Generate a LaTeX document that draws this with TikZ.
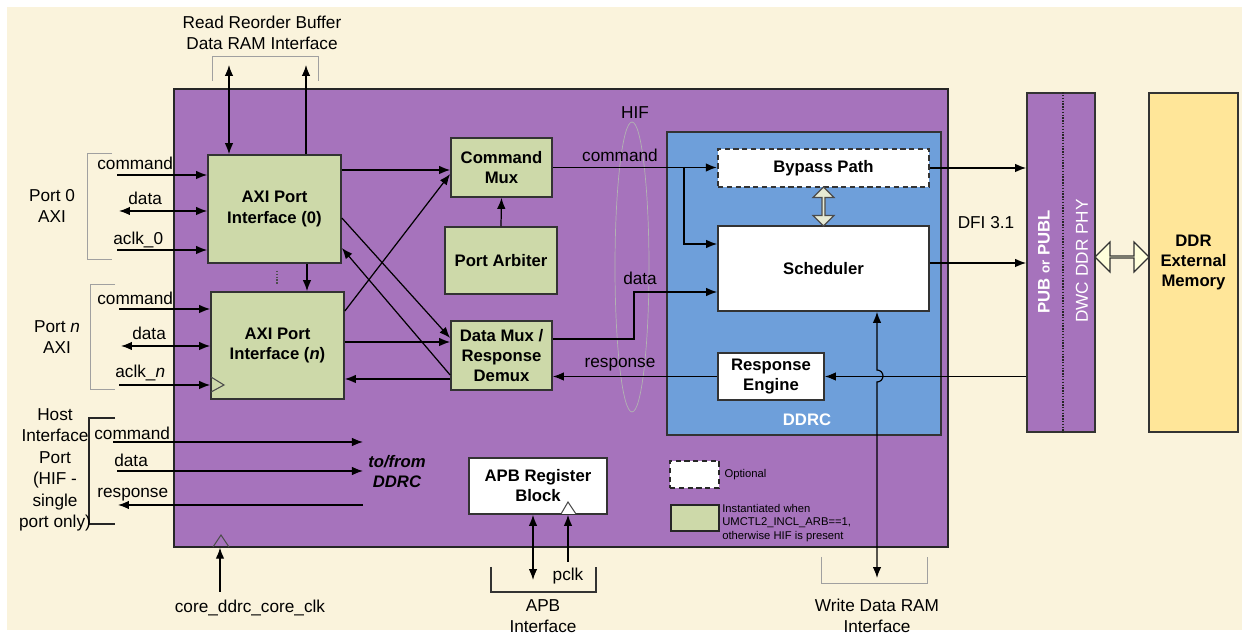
\documentclass[tikz,border=0pt]{standalone}
\usepackage{fontspec}
\setmainfont{Liberation Sans}
\usepackage{xcolor}
\usepackage{tikz}
\usetikzlibrary{arrows.meta,shapes.geometric,shapes.arrows}

\definecolor{cream}{HTML}{FAF3DC}
\definecolor{umpurple}{HTML}{A673BC}
\definecolor{axigreen}{HTML}{CDD9A9}
\definecolor{ddrcblue}{HTML}{6E9FDA}
\definecolor{memyellow}{HTML}{FFE699}
\definecolor{bracketgray}{HTML}{A0A0A0}
\definecolor{bpfill}{HTML}{E6EAD4}
\definecolor{phyfill}{HTML}{FFFFDC}

\begin{document}
\begin{tikzpicture}[x=0.02cm, y=-0.02cm,
  lbl/.style={font=\fontsize{9.8}{11.9}\selectfont, inner sep=0pt},
  smalllbl/.style={font=\fontsize{6.4}{7.6}\selectfont, inner sep=0pt, align=left},
  blk/.style={draw=black!80, line width=1pt, align=center, inner sep=0pt,
    font=\bfseries\fontsize{9.5}{11.4}\selectfont},
  green box/.style={blk, fill=axigreen},
  white box/.style={blk, fill=white},
  sig/.style={line width=0.7pt, -{Latex[length=2.2mm,width=1.7mm]}},
  bisig/.style={line width=0.7pt, {Latex[length=2.2mm,width=1.7mm]}-{Latex[length=2.2mm,width=1.7mm]}},
  brk/.style={draw=bracketgray, line width=0.5pt},
  clk/.style={draw=black!70, line width=0.6pt},
  fine dots/.style={line width=1pt, dash pattern=on 0.8pt off 0.8pt}
]
\useasboundingbox (0,0) rectangle (1248,634);
\fill[cream] (7,7) rectangle (1242,630);

% uMCTL2 outline
\node[draw=black!85, line width=0.8pt, fill=umpurple, minimum width=15.48cm, minimum height=9.16cm] (umctl) at (561,318) {};

% AXI ports
\node[green box, minimum width=2.66cm, minimum height=2.16cm] (axi0) at (274.5,209) {AXI Port\\Interface (0)};
\node[green box, minimum width=2.66cm, minimum height=2.14cm] (axin) at (277.5,345.5) {AXI Port\\Interface (\textit{n})};
\draw[fine dots, black!70, shorten >=4pt, shorten <=4pt] ([xshift=0.05cm]axi0.south) -- ([xshift=0.05cm]axi0.south |- axin.north);
\draw[sig] ([xshift=0.65cm]axi0.south) -- ([xshift=0.65cm]axi0.south |- axin.north);
\draw[clk] (211,377) -- (224,385) -- (211,392);

% Read reorder buffer
\coordinate (rrbA) at (229,65);
\coordinate (rrbB) at (306,65);
\draw[bisig] (rrbA) -- (rrbA |- axi0.north);
\draw[sig] (rrbB |- axi0.north) -- (rrbB);
\draw[brk] (212,81) -- (212,56) -- (318,56) -- (318,81);
\node[lbl, align=center] (rrblbl) at (262,33) {Read Reorder Buffer\\Data RAM Interface};

% Port 0
\draw[brk] (112,153) -- (87,153) -- (87,259) -- (112,259);
\node[lbl, align=center] (port0) at (52,206) {Port 0\\AXI};
\coordinate (p0cmd) at (117,175);
\coordinate (p0dat) at (119,211);
\coordinate (p0clk) at (117,250);
\draw[sig] (p0cmd) -- (p0cmd -| axi0.west);
\draw[bisig] (p0dat) -- (p0dat -| axi0.west);
\draw[sig] (p0clk) -- (p0clk -| axi0.west);
\node[lbl, anchor=base west] (p0cmdlbl) at (97,170) {command};
\node[lbl, anchor=base west] (p0datlbl) at (128,205) {data};
\node[lbl, anchor=base west] (p0clklbl) at (113,245) {aclk\_0};

% Port n
\draw[brk] (115,284) -- (90,284) -- (90,389) -- (115,389);
\node[lbl, align=center] (portn) at (57,337) {Port \textit{n}\\AXI};
\coordinate (pncmd) at (119,309);
\coordinate (pndat) at (121,346);
\coordinate (pnclk) at (119,385);
\draw[sig] (pncmd) -- (pncmd -| axin.west);
\draw[bisig] (pndat) -- (pndat -| axin.west);
\draw[sig] (pnclk) -- (pnclk -| axin.west);
\node[lbl, anchor=base west] (pncmdlbl) at (97,305) {command};
\node[lbl, anchor=base west] (pndatlbl) at (132,340) {data};
\node[lbl, anchor=base west] (pnclklbl) at (115,378) {aclk\_\textit{n}};

% Host interface port
\draw[line width=0.6pt, black!85] (115,418) -- (89,418) -- (89,524) -- (115,524);
\node[lbl, align=center, font=\fontsize{9.8}{12.2}\selectfont] (hostlbl) at (55,470) {Host\\Interface\\Port\\(HIF -\\single\\port only)};
\node[lbl, align=center, inner sep=2.8pt, font=\bfseries\itshape\fontsize{9.5}{11.4}\selectfont] (tofrom) at (397,472) {to/from\\DDRC};
\coordinate (hcmd) at (113,442);
\coordinate (hdat) at (117,471);
\coordinate (hresp) at (118,505);
\draw[sig] (hcmd) -- (hcmd -| tofrom.west);
\draw[sig] (hdat) -- (hdat -| tofrom.west);
\draw[sig] (hresp -| tofrom.west) -- (hresp);
\node[lbl, anchor=base west] (hcmdlbl) at (94,440) {command};
\node[lbl, anchor=base west] (hdatlbl) at (114,467) {data};
\node[lbl, anchor=base west] (hresplbl) at (97,498) {response};

% Core clock
\coordinate (coreclk) at (220,592);
\draw[sig] (coreclk) -- (coreclk |- umctl.south);
\draw[clk] (213,547) -- (221,535) -- (229,547);
\node[lbl, anchor=base] (coreclklbl) at (250,613) {core\_ddrc\_core\_clk};

% Muxes and arbiter
\node[green box, minimum width=2.02cm, minimum height=1.18cm] (cmdmux) at (501.5,167.5) {Command\\Mux};
\node[green box, minimum width=2.24cm, minimum height=1.34cm] (arbiter) at (501,260.5) {Port Arbiter};
\node[green box, minimum width=2.02cm, minimum height=1.38cm] (datamux) at (501.5,355.5) {Data Mux /\\Response\\Demux};
\draw[sig] (arbiter.north) -- (cmdmux.south);
\draw[sig] (axi0.east |- 0,170) -- (cmdmux.west |- 0,170);
\draw[sig] (axin.east |- 0,311) -- (cmdmux.west |- 0,174);
\draw[sig] (axi0.east |- 0,218) -- (datamux.west |- 0,338);
\draw[sig] (datamux.west |- 0,375) -- (axi0.east |- 0,248);
\draw[sig] (axin.east |- 0,342) -- (datamux.west |- 0,342);
\draw[sig] (datamux.west |- 0,379) -- (axin.east |- 0,379);

% HIF
\node[ellipse, draw=gray!60, line width=0.4pt, minimum width=0.68cm, minimum height=5.8cm, inner sep=0pt] (hifring) at (632,267) {};
\node[lbl] (hiflbl) at (635,113) {HIF};

% DDRC
\node[draw=black!80, line width=1pt, fill=ddrcblue, minimum width=5.48cm, minimum height=6.06cm] (ddrc) at (804,283.5) {};
\node[white box, dash pattern=on 3pt off 2pt, line width=1.4pt, minimum width=4.22cm, minimum height=0.76cm] (bypass) at (823.5,168) {Bypass Path};
\node[white box, minimum width=4.22cm, minimum height=1.7cm] (sched) at (823.5,268.5) {Scheduler};
\node[white box, minimum width=2.12cm, minimum height=0.94cm] (respeng) at (771,376.5) {Response\\Engine};
\node[font=\bfseries\fontsize{9.5}{11.4}\selectfont, text=white, inner sep=0pt] (ddrclbl) at (807,420) {DDRC};
\node[double arrow, draw=black!70, fill=bpfill, line width=0.7pt, rotate=90, minimum height=0.78cm, minimum width=0.42cm, double arrow head extend=0.07cm, inner sep=0pt] (bparrow) at (823.5,206.5) {};

% HIF signals
\coordinate (cmdsplit) at (684,167);
\draw[sig] (cmdmux.east) -- (cmdmux.east -| bypass.west);
\draw[sig] (cmdsplit) |- (sched.west |- 0,244);
\node[lbl, anchor=base] (hifcmdlbl) at (620,162) {command};
\draw[sig] (datamux.east |- 0,339) -| (634,292) -- (sched.west |- 0,292);
\node[lbl, anchor=base] (hifdatlbl) at (640,285) {data};
\draw[sig] (respeng.west) -- (respeng.west -| datamux.east);
\node[lbl, anchor=base] (hifresplbl) at (620,368) {response};

% PHY and memory
\node[draw=black!80, line width=1pt, fill=umpurple, minimum width=1.36cm, minimum height=6.78cm] (pub) at (1061,262.5) {};
\draw[fine dots, black!85] ([xshift=0.04cm]pub.north) -- ([xshift=0.04cm]pub.south);
\node[rotate=90, text=white, inner sep=0pt, font=\bfseries\fontsize{9.5}{11}\selectfont] (publbl) at (1044,262) {PUB {\fontsize{7.5}{9}\selectfont or} PUBL};
\node[rotate=90, text=white, inner sep=0pt, font=\fontsize{9.8}{11}\selectfont] (phylbl) at (1082,261) {DWC DDR PHY};
\node[blk, fill=memyellow, minimum width=1.78cm, minimum height=6.78cm] (ddr) at (1193.5,262.5) {DDR\\External\\Memory};
\node[double arrow, draw=black!80, fill=phyfill, line width=0.7pt, minimum height=1.08cm, minimum width=0.6cm, double arrow head extend=0.17cm, inner sep=0pt] (phyarrow) at (1122,257) {};

% DFI
\draw[sig] (bypass.east) -- (bypass.east -| pub.west);
\draw[sig] (sched.east |- 0,263) -- (pub.west |- 0,263);
\node[lbl] (dfilbl) at (986,223) {DFI 3.1};
\draw[sig] (pub.west |- respeng.east) -- (respeng.east);

% Write data RAM
\coordinate (wrdata) at (877,578);
\draw[bisig] (sched.south -| wrdata) -- (877,370) arc[start angle=90, end angle=-90, radius=0.12cm] -- (wrdata);
\draw[brk] (821,557) -- (821,583) -- (927,583) -- (927,557);
\node[lbl, align=center] (wrlbl) at (877,616) {Write Data RAM\\Interface};

% APB
\node[white box, minimum width=2.76cm, minimum height=1.12cm] (apb) at (538,486) {APB Register\\Block};
\draw[clk, fill=white] (561,514) -- (568,502) -- (576,514);
\coordinate (apbbus) at (533,580);
\coordinate (pclkin) at (568,562);
\draw[bisig] (apb.south -| apbbus) -- (apbbus);
\draw[sig] (pclkin) -- (pclkin |- apb.south);
\draw[line width=0.6pt, black!80] (491,567) -- (491,592) -- (596,592) -- (596,567);
\node[lbl] (pclklbl) at (568,576) {pclk};
\node[lbl, align=center] (apblbl) at (543,616) {APB\\Interface};

% Legend
\node[draw=black!85, line width=1.4pt, dash pattern=on 3pt off 2pt, fill=white, minimum width=0.98cm, minimum height=0.54cm] (legopt) at (694.5,474.5) {};
\node[smalllbl, anchor=west] (legoptlbl) at ([xshift=0.08cm]legopt.east) {Optional};
\node[draw=black!85, line width=0.8pt, fill=axigreen, minimum width=0.96cm, minimum height=0.52cm] (legarb) at (695,518) {};
\node[smalllbl, anchor=west] (legarblbl) at (722,523) {Instantiated when\\UMCTL2\_INCL\_ARB==1,\\otherwise HIF is present};
\end{tikzpicture}
\end{document}
